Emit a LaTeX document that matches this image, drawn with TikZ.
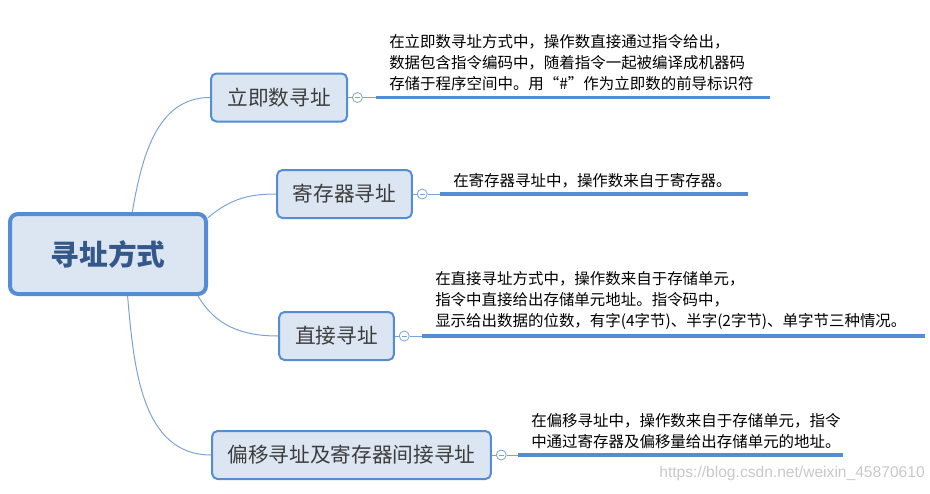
\documentclass[tikz,border=0pt]{standalone}
\usepackage{fontspec}
\usetikzlibrary{positioning}
\newfontfamily\cjk{Noto Sans CJK SC}
\setsansfont{Liberation Sans}
\definecolor{boxblue}{RGB}{84,141,212}
\definecolor{boxfill}{RGB}{220,230,242}
\definecolor{twigblue}{RGB}{125,163,214}
\definecolor{rootink}{RGB}{52,88,138}
\definecolor{labelink}{RGB}{60,60,60}
\definecolor{markgray}{RGB}{200,200,200}

\tikzset{
  rootbox/.style={draw=boxblue, fill=boxfill, line width=3pt, rounded corners=6pt,
    minimum width=147pt, minimum height=60pt, text=rootink,
    font=\cjk\bfseries\fontsize{21.5}{25}\selectfont},
  subbox/.style={draw=boxblue, fill=boxfill, line width=1.5pt, rounded corners=4pt,
    minimum height=36pt, inner xsep=0pt, text=labelink,
    font=\cjk\fontsize{15.5}{18}\selectfont},
  foldmark/.style={circle, draw=twigblue, fill=white, line width=0.6pt,
    minimum size=7.5pt, inner sep=0pt,
    path picture={\draw[twigblue, line width=0.6pt]
      ([xshift=-2pt]path picture bounding box.center) --
      ([xshift=2pt]path picture bounding box.center);}},
  twig/.style={twigblue, line width=0.75pt},
  stem/.style={boxblue, line width=2.4pt},
  note/.style={align=left, inner sep=0pt, text=black,
    font=\cjk\fontsize{11.6}{16}\selectfont},
}

% ── One branch: box, fold mark, underline and its note ───────────────
% #1=name, #2=centre x, #3=centre y, #4=box width, #5=label,
% #6=underline start x, #7=underline end x, #8=note text
\newcommand{\addrbranch}[8]{%
  \node[subbox, minimum width=#4] (#1) at (#2,#3) {#5};
  \node[foldmark, right=3pt of #1] (#1fold) {};
  \coordinate (#1s) at (#6,#3);
  \coordinate (#1e) at (#7,#3);
  \draw[twig] (#1) -- (#1fold);
  \draw[twig] (#1fold) -- (#1s);
  \draw[stem] (#1s) -- (#1e);
  \node[note, anchor=south west] (#1note) at ([xshift=9.75pt, yshift=4.5pt]#1s) {#8};
}

\begin{document}
\begin{tikzpicture}[x=0.75pt, y=0.75pt]

% ── Canvas ───────────────────────────────────────────────────────────
\useasboundingbox (0,0) rectangle (930,-493);

% ── Root ─────────────────────────────────────────────────────────────
\node[rootbox] (root) at (108,-254) {寻址方式};

% ── Branches (top to bottom) ─────────────────────────────────────────
\addrbranch{imm}{279}{-97.5}{102pt}{立即数寻址}{376}{770}%
  {在立即数寻址方式中，操作数直接通过指令给出，\\
   数据包含指令编码中，随着指令一起被编译成机器码\\
   存储于程序空间中。用“\#”作为立即数的前导标识符}
\addrbranch{reg}{344.5}{-194}{101pt}{寄存器寻址}{440}{748}%
  {在寄存器寻址中，操作数来自于寄存器。}
\addrbranch{dir}{336.5}{-336}{86pt}{直接寻址}{422}{925}%
  {在直接寻址方式中，操作数来自于存储单元，\\
   指令中直接给出存储单元地址。指令码中，\\
   显示给出数据的位数，有字(4字节)、半字(2字节)、单字节三种情况。}
\addrbranch{off}{351.5}{-455}{209pt}{偏移寻址及寄存器间接寻址}{518}{843}%
  {在偏移寻址中，操作数来自于存储单元，指令\\
   中通过寄存器及偏移量给出存储单元的地址。}

% ── Links from the root ──────────────────────────────────────────────
\draw[twig] (root.60) to[out=80, in=180] (imm.west);
\draw[twig] (root.20) to[out=40, in=180] (reg.west);
\draw[twig] (root.-25) to[out=-60, in=180] (dir.west);
\draw[twig] (root.-65) to[out=-85, in=180] (off.west);

% ── Watermark ────────────────────────────────────────────────────────
\node[anchor=east, inner sep=0pt, text=markgray, font=\sffamily\fontsize{11.7}{14}\selectfont]
  (mark) at (925,-473) {https://blog.csdn.net/weixin\_45870610};

\end{tikzpicture}
\end{document}
